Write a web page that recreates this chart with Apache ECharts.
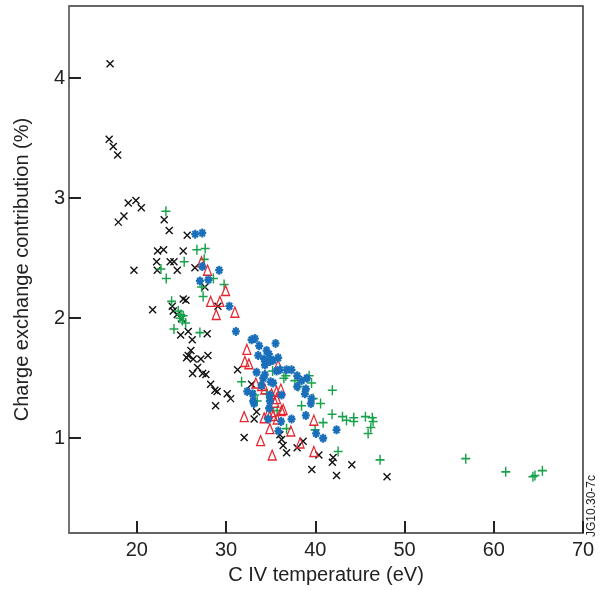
<!DOCTYPE html>
<html><head><meta charset="utf-8">
<script src="https://cdn.jsdelivr.net/npm/echarts@6/dist/echarts.min.js"></script>
<style>html,body{margin:0;padding:0;background:#fff}#c{width:607px;height:590px}</style>
</head><body><div id="c"></div>
<script>
// Tick values
const xTicks = [20, 30, 40, 50, 60, 70];
const yTicks = [1, 2, 3, 4];
const X_MIN = 12.4, X_MAX = 70, Y_MIN = 0.21, Y_MAX = 4.6;

// Series data: [C IV temperature (eV), charge exchange contribution (%)]
const blackX = [
[17.0,4.12],[16.9,3.49],[17.36,3.43],[17.85,3.36],[19.04,2.96],[19.9,2.98],[20.5,2.92],[17.92,2.80],[18.56,2.85],
[23.07,2.82],[23.63,2.73],[22.33,2.56],[23.0,2.57],[25.65,2.69],[25.2,2.56],[22.22,2.47],[23.74,2.47],[24.16,2.47],
[19.68,2.40],[22.29,2.40],[24.53,2.40],[26.51,2.42],[27.63,2.26],[25.2,2.16],[25.5,2.15],[23.97,2.10],[21.77,2.07],
[24.08,2.06],[29.09,2.10],[24.53,2.03],[25.02,1.995],[24.91,1.86],[25.76,1.89],[26.21,1.82],[27.89,1.87],[26.06,1.73],
[25.76,1.69],[25.58,1.67],[26.32,1.66],[27.18,1.66],[27.97,1.69],[26.25,1.54],[26.81,1.59],[27.37,1.54],[27.74,1.53],
[28.27,1.45],[28.75,1.40],[29.0,1.39],[30.13,1.37],[30.51,1.33],[28.83,1.27],[31.29,1.57],[32.86,1.45],[33.42,1.22],
[33.15,1.16],[32.03,1.006],[36.03,1.03],[36.22,0.99],[36.4,0.94],[36.78,0.88],[37.97,0.92],[38.64,0.975],[40.4,0.86],
[42.0,0.84],[41.91,0.80],[39.61,0.74],[42.38,0.69],[44.09,0.78],[48.04,0.68]
];
const greenPlus = [
[23.26,2.89],[22.7,2.41],[26.73,2.57],[27.66,2.58],[25.31,2.47],[27.55,2.49],[23.3,2.33],[28.58,2.33],[27.26,2.26],
[29.78,2.28],[27.43,2.18],[23.9,2.14],[24.64,2.06],[24.94,2.03],[25.2,2.02],[24.83,2.00],[25.09,1.98],[25.47,1.96],
[24.16,1.91],[27.07,1.88],[31.74,1.47],[33.49,1.31],[34.91,1.25],[35.21,1.56],[33.23,1.36],[34.54,1.37],[35.73,1.23],
[36.78,1.08],[36.48,1.50],[36.7,1.52],[37.71,1.48],[39.31,1.52],[38.08,1.43],[39.58,1.46],[38.46,1.27],[39.76,1.33],
[40.59,1.29],[41.91,1.40],[40.88,1.13],[39.98,1.07],[41.88,1.20],[43.05,1.18],[43.5,1.15],[44.31,1.17],[44.31,1.14],
[45.62,1.18],[46.39,1.17],[46.48,1.14],[46.22,1.09],[45.92,1.04],[42.56,0.89],[47.26,0.82],[56.86,0.83],[61.34,0.72],
[64.39,0.68],[64.62,0.69],[65.45,0.73]
];
const redTriangle = [
[27.25,2.47],[27.93,2.40],[29.95,2.23],[28.27,2.14],[29.31,2.14],[28.9,2.03],[30.99,2.05],[32.33,1.74],[32.11,1.64],
[32.56,1.62],[35.84,1.61],[33.34,1.46],[33.98,1.44],[34.35,1.41],[35.1,1.37],[35.66,1.39],[36.14,1.41],[35.66,1.33],
[35.47,1.30],[36.22,1.23],[36.4,1.24],[35.1,1.22],[35.28,1.19],[34.74,1.21],[32.03,1.18],[34.27,1.17],[35.73,1.16],
[39.84,1.15],[34.91,1.08],[37.26,1.06],[33.87,0.98],[35.17,0.86],[38.3,0.96],[39.84,0.89]
];
const blueStar = [
[26.54,2.70],[27.33,2.71],[27.33,2.43],[29.23,2.40],[27.07,2.31],[28.02,2.32],[30.37,2.10],[31.1,1.89],[32.86,1.82],
[33.23,1.83],[33.71,1.77],[35.55,1.79],[33.6,1.69],[34.54,1.73],[34.8,1.70],[34.27,1.66],[34.91,1.64],[35.28,1.65],
[35.84,1.67],[34.35,1.61],[33.42,1.55],[35.66,1.56],[36.03,1.57],[36.78,1.57],[37.34,1.57],[34.35,1.53],[34.16,1.50],
[37.97,1.52],[38.46,1.48],[39.05,1.50],[34.99,1.47],[35.28,1.46],[33.98,1.44],[37.97,1.43],[38.94,1.41],[38.83,1.37],
[32.37,1.39],[32.97,1.37],[34.91,1.36],[33.04,1.31],[33.12,1.29],[39.58,1.33],[39.5,1.29],[34.91,1.31],[34.83,1.25],
[34.72,1.16],[37.34,1.16],[38.94,1.19],[36.17,1.14],[35.86,1.06],[40.09,1.04],[40.88,1.00],[42.38,1.07],[36.22,1.36]
];

const FONT = '"Liberation Sans", Arial, sans-serif';
const X_TICK_SPAN = 0.1;   // inward tick length in y units (~12 px)
const Y_TICK_SPAN = 1.34;  // inward tick length in x units (~12 px)
const tickLines = xTicks.map(v => [{coord: [v, Y_MIN]}, {coord: [v, Y_MIN + X_TICK_SPAN]}])
  .concat(yTicks.map(v => [{coord: [X_MIN, v]}, {coord: [X_MIN + Y_TICK_SPAN, v]}]));

const chart = echarts.init(document.getElementById('c'), null, {renderer: 'canvas'});
chart.setOption({
  animation: false,
  backgroundColor: '#fff',
  grid: {left: 69, top: 6, right: 24, bottom: 55, show: true, borderColor: '#333', borderWidth: 1.5},
  xAxis: {
    type: 'value', min: X_MIN, max: X_MAX,
    name: 'C IV temperature (eV)', nameLocation: 'middle', nameGap: 31,
    nameTextStyle: {fontFamily: FONT, fontSize: 20, color: '#222'},
    axisLine: {show: true, lineStyle: {color: '#666', width: 1.5}},
    axisTick: {show: false},
    axisLabel: {customValues: xTicks, fontFamily: FONT, fontSize: 20, color: '#222', margin: 7, showMaxLabel: true},
    splitLine: {show: false}
  },
  yAxis: {
    type: 'value', min: Y_MIN, max: Y_MAX,
    name: 'Charge exchange contribution (%)', nameLocation: 'middle', nameGap: 37,
    nameTextStyle: {fontFamily: FONT, fontSize: 20, color: '#222'},
    axisLine: {show: true, lineStyle: {color: '#777', width: 1.5}},
    axisTick: {show: false},
    axisLabel: {customValues: yTicks, fontFamily: FONT, fontSize: 20, color: '#222', margin: 4},
    splitLine: {show: false}
  },
  graphic: [{
    type: 'text', x: 586, y: 537, rotation: Math.PI / 2,
    style: {text: 'JG10.30-7c', font: '12px ' + FONT, fill: '#222', verticalAlign: 'top'}
  }],
  series: [
    {type: 'scatter', data: blackX, symbol: 'path://M0,0L10,10M10,0L0,10', symbolSize: [7, 7],
     itemStyle: {color: 'transparent', borderColor: '#111', borderWidth: 1.4, opacity: 1},
     markLine: {silent: true, symbol: 'none', animation: false, label: {show: false}, z: 10,
       lineStyle: {color: '#222', width: 2, type: 'solid', opacity: 1}, data: tickLines}},
    {type: 'scatter', data: greenPlus, symbol: 'path://M5,0L5,10M0,5L10,5', symbolSize: [9, 10],
     itemStyle: {color: 'transparent', borderColor: '#17a24b', borderWidth: 1.5, opacity: 1}},
    {type: 'scatter', data: redTriangle, symbol: 'triangle', symbolSize: [8, 10],
     itemStyle: {color: 'transparent', borderColor: '#e52630', borderWidth: 1.3, opacity: 1}},
    {type: 'scatter', data: blueStar, symbol: 'path://M5,0L5,10M0,5L10,5M1.5,1.5L8.5,8.5M8.5,1.5L1.5,8.5', symbolSize: [8, 9],
     itemStyle: {color: 'transparent', borderColor: '#1a6fba', borderWidth: 2.2, opacity: 1}}
  ]
});
</script></body></html>
